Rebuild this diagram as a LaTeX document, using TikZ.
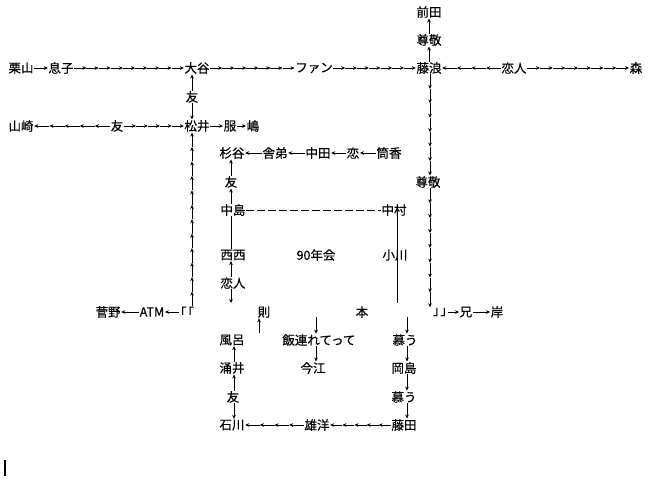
\documentclass[tikz,border=0pt]{standalone}
\usepackage{fontspec}
\setmainfont{Noto Sans CJK JP}[FakeBold=0.4]
\usetikzlibrary{calc,arrows.meta}

\tikzset{
  who/.style={inner sep=0.5pt,font=\fontsize{12.5}{14}\selectfont},
  arr/.style={-{Stealth[length=4pt,width=3.6pt]},line width=0.6pt},
  plain/.style={line width=0.7pt},
}
\newcommand{\chain}[3]{\foreach \i in {1,...,#3} \draw[arr] ($(#1)!{(\i-1)/#3}!(#2)$) -- ($(#1)!{\i/#3}!(#2)$);}

\begin{document}
\begin{tikzpicture}[x=1pt,y=-1pt]
\useasboundingbox (0,0) rectangle (650,488);

\coordinate (colleft) at (192,0);
\coordinate (colright) at (430,0);
\coordinate (colmid) at (231,0);
\coordinate (colbot) at (234,0);
\coordinate (colmeshi) at (316,0);
\coordinate (colshitau) at (407,0);

\node[who] (kuriyama) at (21,68) {栗山};
\node[who] (musuko) at (61,68) {息子};
\node[who] (otani) at (197,68) {大谷};
\node[who] (fan) at (314,68) {ファン};
\node[who] (fujinami) at (429,68) {藤浪};
\node[who] (koibito) at (514,68) {恋人};
\node[who] (mori) at (636,68) {森};
\node[who] (sonkei) at (429,40) {尊敬};
\node[who] (maeda) at (429,12) {前田};

\chain{kuriyama.east}{musuko.west}{1}
\chain{musuko.east}{otani.west}{9}
\chain{otani.east}{fan.west}{7}
\chain{fan.east}{fujinami.west}{7}
\chain{koibito.west}{fujinami.east}{4}
\chain{koibito.east}{mori.west}{8}
\chain{fujinami.north}{sonkei.south}{1}
\chain{sonkei.north}{maeda.south}{1}

\node[who] (tomoa) at (192,97) {友};
\node[who] (yamasaki) at (21,126) {山崎};
\node[who] (tomob) at (117,126) {友};
\node[who] (matsui) at (197,126) {松井};
\node[who] (fuku) at (230,126) {服};
\node[who] (shima) at (253,126) {嶋};
\chain{tomoa.north}{otani.south -| colleft}{1}
\chain{tomoa.south}{matsui.north -| colleft}{1}
\chain{tomob.west}{yamasaki.east}{5}
\chain{tomob.east}{matsui.west}{5}
\chain{matsui.east}{fuku.west}{1}
\chain{fuku.east}{shima.west}{1}

\node[who] (sugitani) at (232,153) {杉谷};
\node[who] (shatei) at (275,153) {舎弟};
\node[who] (nakata) at (318,153) {中田};
\node[who] (koi) at (353,153) {恋};
\node[who] (tsutsugo) at (389,153) {筒香};
\chain{shatei.west}{sugitani.east}{1}
\chain{nakata.west}{shatei.east}{1}
\chain{koi.west}{nakata.east}{1}
\chain{tsutsugo.west}{koi.east}{1}

\node[who] (tomoc) at (231,182) {友};
\node[who] (sonkeib) at (428,182) {尊敬};
\node[who] (nakajima) at (233,210) {中島};
\node[who] (nakamura) at (394,210) {中村};
\node[who] (nishi) at (233,255) {西西};
\node[who] (nenkai) at (316,255) {90年会};
\node[who] (ogawa) at (395,255) {小川};
\node[who] (koibitob) at (233,283) {恋人};
\chain{tomoc.north}{sugitani.south -| colmid}{1}
\chain{nakajima.north -| colmid}{tomoc.south}{1}
\draw[plain,dash pattern=on 8pt off 3pt] (nakajima.east) -- (nakamura.west);
\draw[plain] (nakajima.south -| colmid) -- (nishi.north -| colmid);
\chain{koibitob.north -| colmid}{nishi.south -| colmid}{1}
\coordinate (kdown) at (231,303);
\chain{koibitob.south -| kdown}{kdown}{1}
\coordinate (nbot) at (397,303);
\draw[plain] (nakamura.south -| nbot) -- (nbot);
\chain{fujinami.south -| colright}{sonkeib.north -| colright}{7}

\node[who] (sugano) at (108,312) {菅野};
\node[who] (atm) at (152,312) {ATM};
\node[who] (lbr) at (187,312) {\kern-6pt「\kern-5pt「};
\node[who] (nori) at (264,312) {則};
\node[who] (hon) at (362,312) {本};
\node[who] (rbr) at (440,312) {」\kern-5pt」\kern-6pt};
\node[who] (ani) at (466,312) {兄};
\node[who] (kishi) at (497,312) {岸};
\chain{atm.west}{sugano.east}{1}
\chain{lbr.west}{atm.east}{1}
\chain{rbr.east}{ani.west}{1}
\chain{ani.east}{kishi.west}{1}
\chain{lbr.north -| colleft}{matsui.south -| colleft}{12}
\chain{sonkeib.south -| colright}{rbr.north -| colright}{8}

\node[who] (furo) at (232,340) {風呂};
\node[who] (meshi) at (319,340) {飯連れてって};
\node[who] (shitaua) at (405,340) {慕う};
\node[who] (wakui) at (232,368) {涌井};
\node[who] (imae) at (313,368) {今江};
\node[who] (okajima) at (404,368) {岡島};
\node[who] (tomod) at (233,397) {友};
\node[who] (shitaub) at (404,397) {慕う};
\node[who] (ishikawa) at (232,425) {石川};
\node[who] (yuyo) at (317,425) {雄洋};
\node[who] (fujita) at (404,425) {藤田};

\coordinate (norifoot) at (259,333);
\chain{norifoot}{nori.south -| norifoot}{1}
\coordinate (meshitop) at (316,317);
\chain{meshitop}{meshi.north -| meshitop}{1}
\coordinate (shitautop) at (407,317);
\chain{shitautop}{shitaua.north -| shitautop}{1}

\chain{wakui.north -| colbot}{furo.south -| colbot}{1}
\chain{meshi.south -| colmeshi}{imae.north -| colmeshi}{1}
\chain{shitaua.south -| colshitau}{okajima.north -| colshitau}{1}
\chain{tomod.north -| colbot}{wakui.south -| colbot}{1}
\chain{okajima.south -| colshitau}{shitaub.north -| colshitau}{1}
\chain{tomod.south -| colbot}{ishikawa.north -| colbot}{1}
\chain{shitaub.south -| colshitau}{fujita.north -| colshitau}{1}
\chain{fujita.west}{yuyo.east}{5}
\chain{yuyo.west}{ishikawa.east}{4}

\draw[line width=1.5pt] (5,460) -- (5,476);
\end{tikzpicture}
\end{document}
